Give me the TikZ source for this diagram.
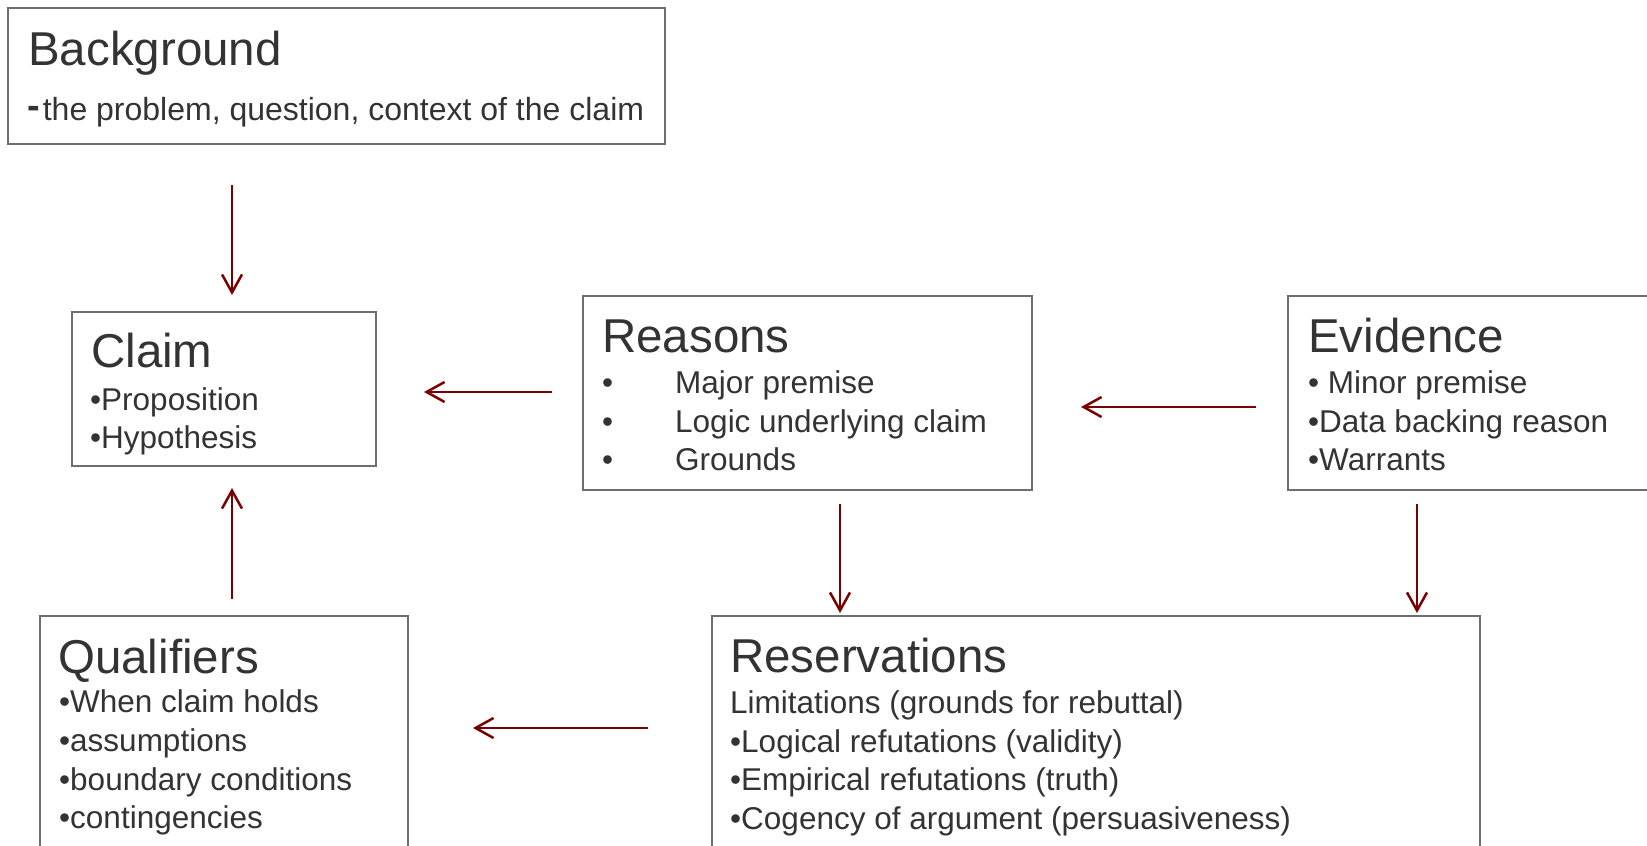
\documentclass[tikz,border=0pt]{standalone}
\usepackage{fontspec}
\setmainfont{Liberation Sans}
\usetikzlibrary{arrows.meta}
\definecolor{txt}{HTML}{333333}
\definecolor{bord}{HTML}{6E6E6E}
\definecolor{arrc}{HTML}{7A0000}
\tikzset{
  box/.style={draw=bord, line width=1.5bp, rectangle, inner sep=0, outer sep=0, anchor=north west, fill=none},
  ttl/.style={anchor=base west, inner sep=0, text=txt, font=\fontsize{47.5bp}{47.5bp}\selectfont},
  bdy/.style={anchor=base west, inner sep=0, text=txt, font=\fontsize{31.5bp}{31.5bp}\selectfont},
  arr/.style={draw=arrc, line width=2.5bp, -{Straight Barb[length=18bp,width=20bp]}},
}
\begin{document}
\begin{tikzpicture}[x=1bp,y=-1bp]
\useasboundingbox (0,0) rectangle (1647,845);
\clip (0,0) rectangle (1647,845);
% boxes
\node[box, minimum width=657bp, minimum height=136bp] (bg) at (8,8) {};
\node[box, minimum width=304bp, minimum height=154bp] (claim) at (72,312) {};
\node[box, minimum width=449bp, minimum height=194bp] (reasons) at (583,296) {};
\node[box, minimum width=450bp, minimum height=194bp] (evidence) at (1288,296) {};
\node[box, minimum width=368bp, minimum height=260bp] (qual) at (40,616) {};
\node[box, minimum width=768bp, minimum height=260bp] (reserv) at (712,616) {};
% texts
\node[ttl] (bgt) at (28,65) {Background};
\node[bdy, font=\fontsize{32bp}{32bp}\selectfont] (bgs) at (27,120) {\raisebox{2bp}{\fontsize{38bp}{38bp}\selectfont\textbf{-}}\hspace{3bp}the problem, question, context of the claim};
\node[ttl] (clt) at (91,367) {Claim};
\node[bdy] (cl1) at (90,410) {•Proposition};
\node[bdy] (cl2) at (90,448) {•Hypothesis};
\node[ttl] (ret) at (602,352) {Reasons};
\node[bdy] (reb1) at (602,393) {•};
\node[bdy] (reb2) at (602,432) {•};
\node[bdy] (reb3) at (602,470.5) {•};
\node[bdy] (re1) at (675,393) {Major premise};
\node[bdy] (re2) at (675,432) {Logic underlying claim};
\node[bdy] (re3) at (675,470.5) {Grounds};
\node[ttl] (evt) at (1308,352) {Evidence};
\node[bdy] (ev1) at (1308,393) {• Minor premise};
\node[bdy] (ev2) at (1308,432) {•Data backing reason};
\node[bdy] (ev3) at (1308,470.5) {•Warrants};
\node[ttl] (qut) at (58,673) {Qualifiers};
\node[bdy] (qu1) at (59,712) {•When claim holds};
\node[bdy] (qu2) at (59,751) {•assumptions};
\node[bdy] (qu3) at (59,790) {•boundary conditions};
\node[bdy] (qu4) at (59,828.5) {•contingencies};
\node[ttl] (rst) at (730,672) {Reservations};
\node[bdy] (rs1) at (730,713) {Limitations (grounds for rebuttal)};
\node[bdy] (rs2) at (730,752) {•Logical refutations (validity)};
\node[bdy] (rs3) at (730,790.5) {•Empirical refutations (truth)};
\node[bdy] (rs4) at (730,829) {•Cogency of argument (persuasiveness)};
% connectors
\draw[arr, shorten <=41bp, shorten >=17bp] (232,0 |- bg.south) -- (232,0 |- claim.north);
\draw[arr, shorten <=31bp, shorten >=48bp] (reasons.west |- 0,392) -- (claim.east |- 0,392);
\draw[arr, shorten <=32bp, shorten >=49bp] (evidence.west |- 0,407) -- (reasons.east |- 0,407);
\draw[arr, shorten <=17bp, shorten >=22bp] (232,0 |- qual.north) -- (232,0 |- claim.south);
\draw[arr, shorten <=14bp, shorten >=3bp] (840,0 |- reasons.south) -- (840,0 |- reserv.north);
\draw[arr, shorten <=14bp, shorten >=3bp] (1417,0 |- evidence.south) -- (1417,0 |- reserv.north);
\draw[arr, shorten <=64bp, shorten >=65bp] (reserv.west |- 0,728) -- (qual.east |- 0,728);
\end{tikzpicture}
\end{document}
